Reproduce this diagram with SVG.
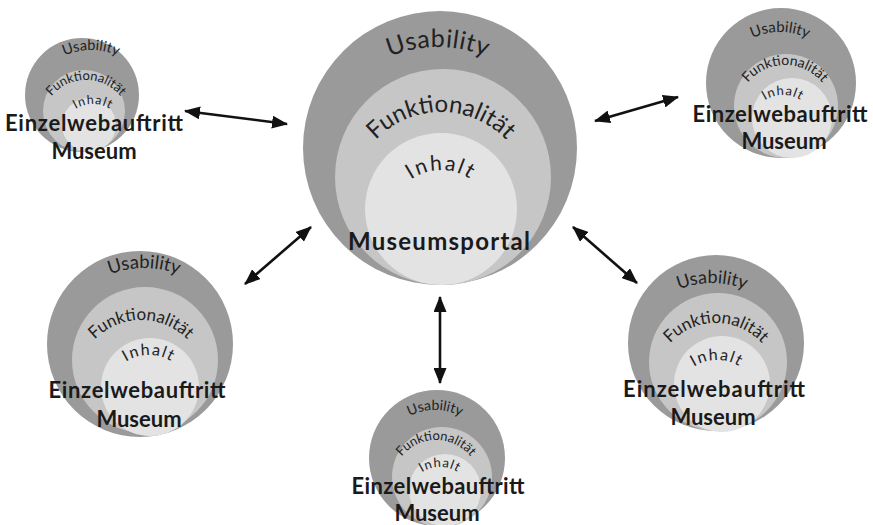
<svg xmlns="http://www.w3.org/2000/svg" width="873" height="525" viewBox="0 0 873 525">
<style>
.o{fill:#9a9a9a}
.m{fill:#c6c6c6}
.i{fill:#e3e3e3}
.t{font-family:Lato,"Open Sans","Liberation Sans",sans-serif;fill:#222;text-anchor:middle}
.b{font-family:Lato,"Open Sans","Liberation Sans",sans-serif;fill:#1a1a1a;font-weight:bold;text-anchor:middle}
.c{stroke:#111;stroke-width:2.6;fill:none;marker-start:url(#ah);marker-end:url(#ah)}
</style>
<defs>
<marker id="ah" viewBox="0 0 16 13" refX="15" refY="6.5" markerWidth="16" markerHeight="13" markerUnits="userSpaceOnUse" orient="auto-start-reverse"><path d="M0,0 L16,6.5 L0,13 z" fill="#111"/></marker>
<path id="cu" d="M313,172 A125,125 0 0 1 563,172"/>
<path id="cf" d="M351,202 A90,90 0 0 1 531,202"/>
<path id="ci" d="M389,222 A52,52 0 0 1 493,222"/>
<path id="au" d="M26,115 A65,65 0 0 1 156,115"/>
<path id="af" d="M41,125 A45,45 0 0 1 131,125"/>
<path id="ai" d="M60,137 A33,33 0 0 1 126,137"/>
<path id="bu" d="M715,97 A65,65 0 0 1 845,97"/>
<path id="bf" d="M737,113 A48,48 0 0 1 833,113"/>
<path id="bi" d="M750,128 A33,33 0 0 1 816,128"/>
<path id="du" d="M49,363 A95,95 0 0 1 239,363"/>
<path id="df" d="M76,385 A65,65 0 0 1 206,385"/>
<path id="di" d="M106,398 A43,43 0 0 1 192,398"/>
<path id="eu" d="M378,467 A57,57 0 0 1 492,467"/>
<path id="ef" d="M392,484 A44,44 0 0 1 480,484"/>
<path id="ei" d="M407,500 A33,33 0 0 1 473,500"/>
<path id="fu" d="M622,373 A90,90 0 0 1 802,373"/>
<path id="ff" d="M654,385 A62,62 0 0 1 778,385"/>
<path id="fi" d="M674,403 A43,43 0 0 1 760,403"/>
</defs>
<rect width="873" height="525" fill="#fff"/>

<g id="connectors">
<line class="c" x1="185" y1="111" x2="287" y2="124"/>
<line class="c" x1="595" y1="121" x2="678" y2="97"/>
<line class="c" x1="245" y1="284" x2="311" y2="227"/>
<line class="c" x1="440" y1="297" x2="440" y2="383"/>
<line class="c" x1="573" y1="227" x2="637" y2="283"/>
</g>

<g id="museumsportal">
<circle class="o" cx="440" cy="148" r="137"/>
<circle class="m" cx="443" cy="177" r="108"/>
<circle class="i" cx="441" cy="209" r="76"/>
<text class="t" font-size="25" letter-spacing="0.5"><textPath href="#cu" startOffset="50%">Usability</textPath></text>
<text class="t" font-size="24"><textPath href="#cf" startOffset="50%">Funktionalität</textPath></text>
<text class="t" font-size="21" letter-spacing="2"><textPath href="#ci" startOffset="50%">Inhalt</textPath></text>
<text class="b" x="439" y="250" font-size="24" textLength="182" lengthAdjust="spacing">Museumsportal</text>
</g>

<g id="museum-topleft">
<circle class="o" cx="82" cy="95" r="57"/>
<circle class="m" cx="84" cy="111" r="41"/>
<circle class="i" cx="89" cy="125" r="27"/>
<text class="t" font-size="14.5"><textPath href="#au" startOffset="50%">Usability</textPath></text>
<text class="t" font-size="13"><textPath href="#af" startOffset="50%">Funktionalität</textPath></text>
<text class="t" font-size="12.5" letter-spacing="1"><textPath href="#ai" startOffset="50%">Inhalt</textPath></text>
<text class="b" x="94" y="131" font-size="22" textLength="178" lengthAdjust="spacing">Einzelwebauftritt</text>
<text class="b" x="94" y="159" font-size="22">Museum</text>
</g>

<g id="museum-topright">
<circle class="o" cx="781" cy="83" r="75"/>
<circle class="m" cx="786" cy="106" r="52"/>
<circle class="i" cx="792" cy="118" r="40"/>
<text class="t" font-size="15"><textPath href="#bu" startOffset="50%">Usability</textPath></text>
<text class="t" font-size="14"><textPath href="#bf" startOffset="50%">Funktionalität</textPath></text>
<text class="t" font-size="13" letter-spacing="1"><textPath href="#bi" startOffset="50%">Inhalt</textPath></text>
<text class="b" x="780" y="122" font-size="22" textLength="175" lengthAdjust="spacing">Einzelwebauftritt</text>
<text class="b" x="784" y="149" font-size="22">Museum</text>
</g>

<g id="museum-left">
<circle class="o" cx="140" cy="344" r="93"/>
<circle class="m" cx="145" cy="360" r="73"/>
<circle class="i" cx="150" cy="387" r="49"/>
<text class="t" font-size="18.5"><textPath href="#du" startOffset="50%">Usability</textPath></text>
<text class="t" font-size="17"><textPath href="#df" startOffset="50%">Funktionalität</textPath></text>
<text class="t" font-size="16" letter-spacing="1.5"><textPath href="#di" startOffset="50%">Inhalt</textPath></text>
<text class="b" x="137" y="398" font-size="22" textLength="177" lengthAdjust="spacing">Einzelwebauftritt</text>
<text class="b" x="139" y="427" font-size="22">Museum</text>
</g>

<g id="museum-bottom">
<circle class="o" cx="437" cy="458" r="68"/>
<circle class="m" cx="442" cy="477" r="50"/>
<circle class="i" cx="445" cy="490" r="36"/>
<text class="t" font-size="14"><textPath href="#eu" startOffset="50%">Usability</textPath></text>
<text class="t" font-size="13"><textPath href="#ef" startOffset="50%">Funktionalität</textPath></text>
<text class="t" font-size="13" letter-spacing="1"><textPath href="#ei" startOffset="50%">Inhalt</textPath></text>
<text class="b" x="438" y="494" font-size="22" textLength="173" lengthAdjust="spacing">Einzelwebauftritt</text>
<text class="b" x="437" y="521" font-size="22">Museum</text>
</g>

<g id="museum-right">
<circle class="o" cx="716" cy="343" r="88"/>
<circle class="m" cx="718" cy="362" r="69"/>
<circle class="i" cx="722" cy="384" r="48"/>
<text class="t" font-size="18"><textPath href="#fu" startOffset="50%">Usability</textPath></text>
<text class="t" font-size="17"><textPath href="#ff" startOffset="50%">Funktionalität</textPath></text>
<text class="t" font-size="16" letter-spacing="1.5"><textPath href="#fi" startOffset="50%">Inhalt</textPath></text>
<text class="b" x="714" y="397" font-size="22" textLength="182" lengthAdjust="spacing">Einzelwebauftritt</text>
<text class="b" x="713" y="425" font-size="22">Museum</text>
</g>
</svg>
